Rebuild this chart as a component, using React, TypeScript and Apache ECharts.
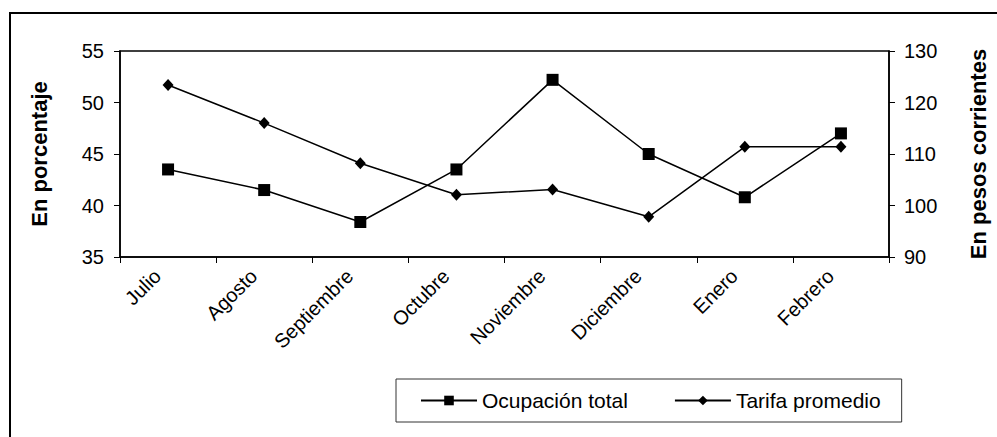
import React, { useEffect, useRef } from "react";
import * as echarts from "echarts";

const months = ["Julio", "Agosto", "Septiembre", "Octubre", "Noviembre", "Diciembre", "Enero", "Febrero"];
const ocupacionTotal = [43.5, 41.5, 38.4, 43.5, 52.2, 45.0, 40.8, 47.0];
const tarifaPromedio = [123.4, 116.0, 108.2, 102.1, 103.1, 97.8, 111.4, 111.4];
const seriesNames = ["Ocupación total", "Tarifa promedio"];
const leftAxisName = "En porcentaje";
const rightAxisName = "En pesos corrientes";

const FONT = "'Liberation Sans', Arial, sans-serif";

export default function App() {
  const ref = useRef<HTMLDivElement>(null);
  useEffect(() => {
    if (!ref.current) return;
    const chart = echarts.init(ref.current, undefined, { renderer: "svg" });
    chart.setOption({
      animation: false,
      backgroundColor: "#ffffff",
      textStyle: { fontFamily: FONT, color: "#000" },
      graphic: [
        {
          type: "rect",
          shape: { x: 10, y: 13, width: 1000, height: 440 },
          style: { fill: "none", stroke: "#000", lineWidth: 2 },
          silent: true,
        },
      ],
      grid: {
        left: 120,
        right: 98,
        top: 51,
        bottom: 180,
        show: true,
        borderColor: "#000",
        borderWidth: 1.5,
        containLabel: false,
      },
      legend: {
        left: 396,
        top: 379,
        orient: "horizontal",
        data: seriesNames,
        borderColor: "#333",
        borderWidth: 1,
        padding: [11, 21, 11, 24],
        itemGap: 46,
        itemWidth: 56,
        itemHeight: 12,
        textStyle: { fontFamily: FONT, fontSize: 21, color: "#000" },
      },
      xAxis: {
        type: "category",
        data: months,
        boundaryGap: true,
        axisLine: { lineStyle: { color: "#000", width: 1.5 } },
        axisTick: { show: true, length: 6, lineStyle: { color: "#000", width: 1 }, alignWithLabel: false },
        axisLabel: {
          rotate: 45,
          margin: 5,
          fontSize: 20,
          color: "#000",
          fontFamily: FONT,
          interval: 0,
          padding: [0, 15, 0, 0],
        },
        splitLine: { show: false },
      },
      yAxis: [
        {
          type: "value",
          position: "left",
          min: 35,
          max: 55,
          interval: 5,
          name: leftAxisName,
          nameLocation: "middle",
          nameGap: 70,
          nameRotate: 90,
          nameTextStyle: { fontFamily: FONT, fontSize: 22, fontWeight: "bold", color: "#000" },
          axisLine: { show: true, lineStyle: { color: "#000", width: 1.5 } },
          axisTick: { show: true, length: 6, lineStyle: { color: "#000", width: 1 } },
          axisLabel: { margin: 16, fontSize: 20, color: "#000", fontFamily: FONT },
          splitLine: { show: false },
        },
        {
          type: "value",
          position: "right",
          min: 90,
          max: 130,
          interval: 10,
          name: rightAxisName,
          nameLocation: "middle",
          nameGap: 78,
          nameRotate: 90,
          nameTextStyle: { fontFamily: FONT, fontSize: 22, fontWeight: "bold", color: "#000" },
          axisLine: { show: true, lineStyle: { color: "#000", width: 1.5 } },
          axisTick: { show: true, length: 6, lineStyle: { color: "#000", width: 1 } },
          axisLabel: { margin: 15, fontSize: 20, color: "#000", fontFamily: FONT },
          splitLine: { show: false },
        },
      ],
      series: [
        {
          name: seriesNames[0],
          type: "line",
          yAxisIndex: 0,
          data: ocupacionTotal,
          symbol: "rect",
          symbolSize: 12,
          itemStyle: { color: "#000" },
          lineStyle: { color: "#000", width: 1.5 },
        },
        {
          name: seriesNames[1],
          type: "line",
          yAxisIndex: 1,
          data: tarifaPromedio,
          symbol: "diamond",
          symbolSize: [11, 12],
          itemStyle: { color: "#000" },
          lineStyle: { color: "#000", width: 1.5 },
        },
      ],
    });
    return () => chart.dispose();
  }, []);
  return (
    <div
      ref={ref}
      style={{ position: "fixed", left: 0, top: 0, width: 997, height: 437, background: "#fff" }}
    />
  );
}
